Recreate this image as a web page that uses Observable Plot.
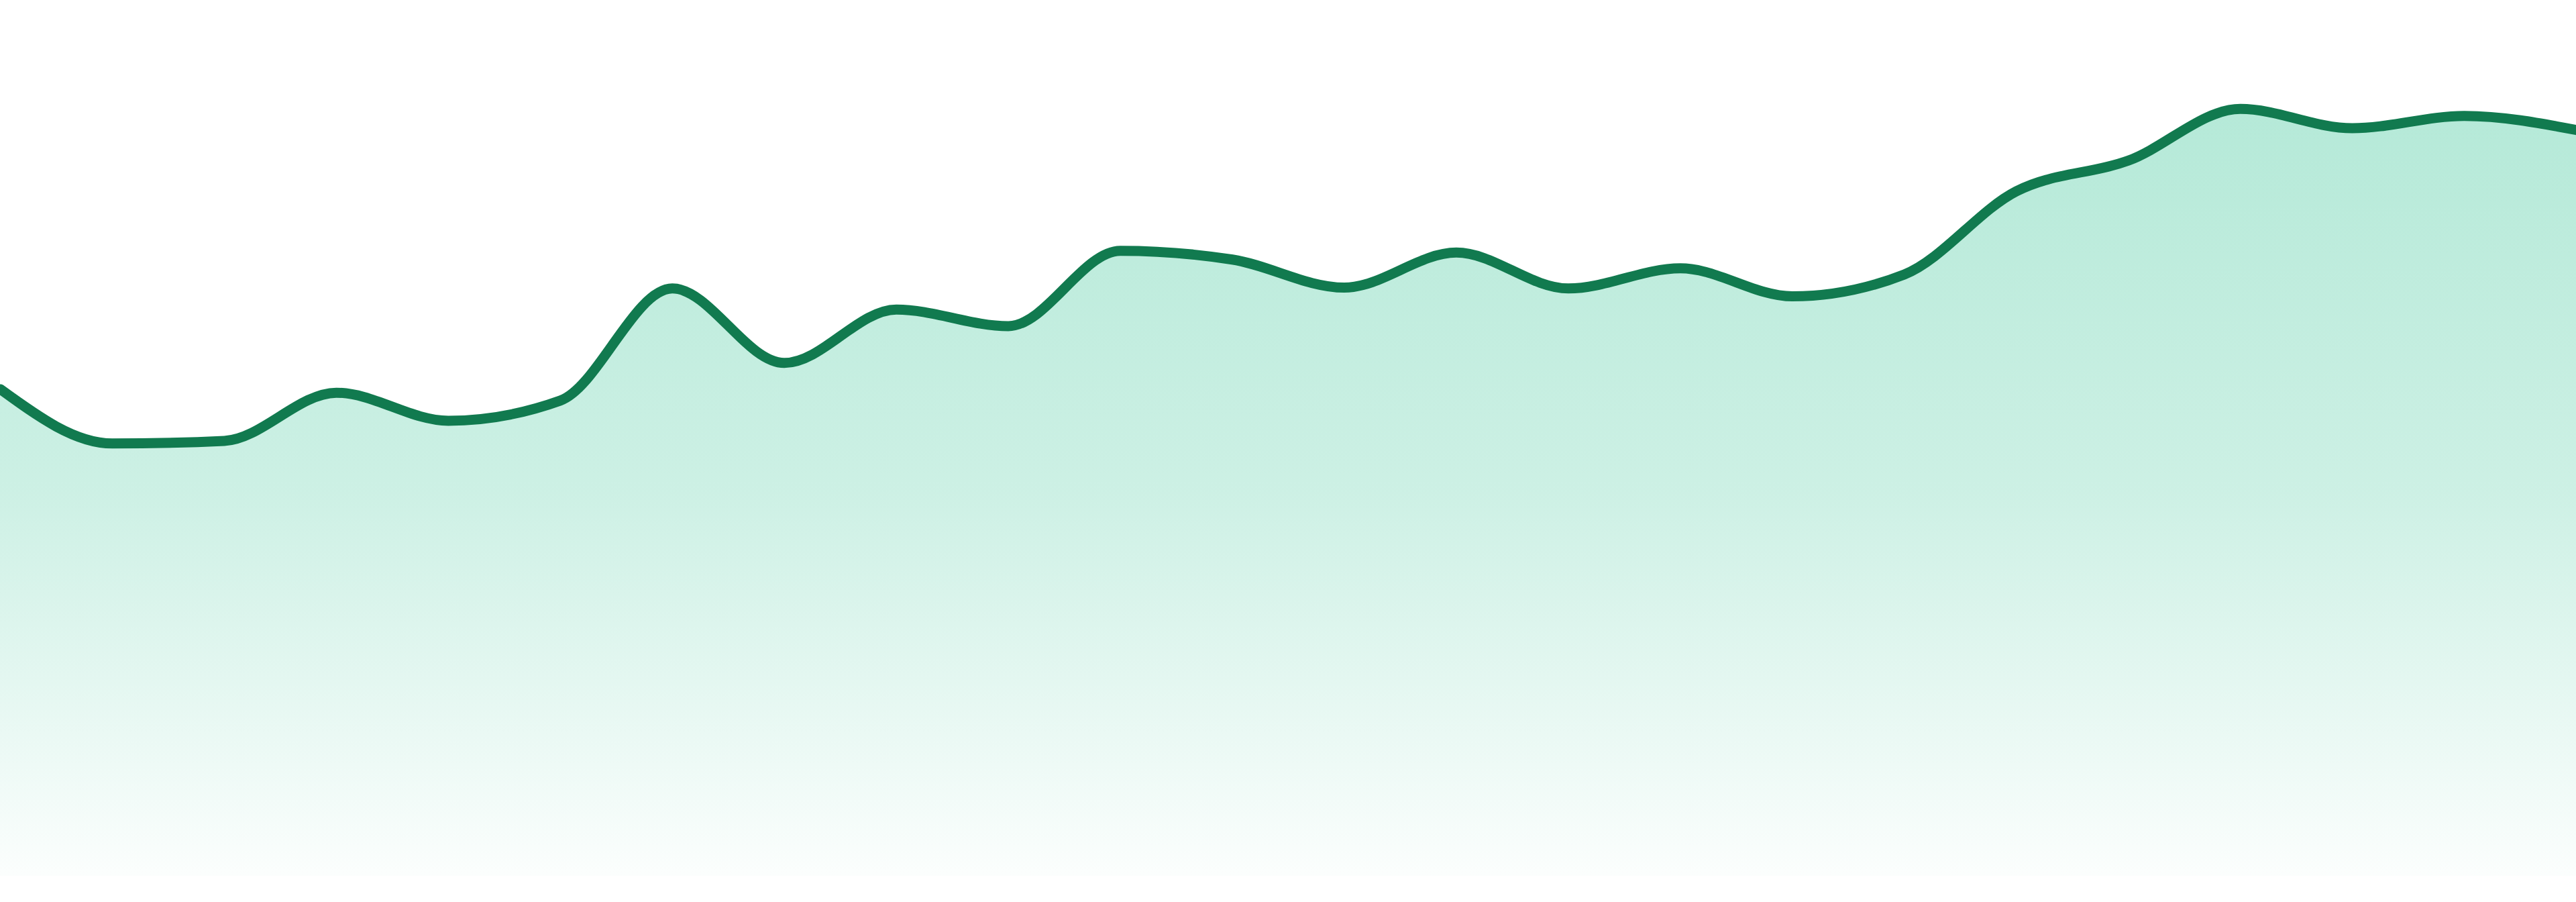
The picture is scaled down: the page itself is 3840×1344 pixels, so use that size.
<!DOCTYPE html>
<html>
<head>
<meta charset="utf-8">
<script src="https://cdn.jsdelivr.net/npm/d3@7"></script>
<script src="https://cdn.jsdelivr.net/npm/@observablehq/plot@0.6"></script>
<style>
  html, body { margin: 0; padding: 0; background: #ffffff; }
  #chart svg { display: block; }
</style>
</head>
<body>
<div id="chart"></div>
<script>
// Data (index of period, value on a 0–100 scale)
const periods = [0, 1, 2, 3, 4, 5, 6, 7, 8, 9, 10, 11, 12, 13, 14, 15, 16, 17, 18, 19, 20, 21, 22, 23];
const values  = [55.6, 49.4, 49.7, 55.2, 52.0, 54.3, 67.1, 58.6, 64.7, 62.8, 71.4, 70.4,
                 67.2, 71.2, 67.1, 69.4, 66.2, 68.7, 78.2, 81.7, 87.6, 85.4, 86.8, 85.2];

const data = periods.map((p, i) => ({ period: p, value: values[i] }));

const lineColor = "#117a4f";
const fillColor = "#10b981";

const gradientDefs = () => {
  const defs = d3.create("svg:defs");
  const g = defs.append("linearGradient")
    .attr("id", "areaGradient")
    .attr("x1", 0).attr("y1", 0).attr("x2", 0).attr("y2", 1);
  g.append("stop").attr("offset", "0%").attr("stop-color", fillColor).attr("stop-opacity", 0.31);
  g.append("stop").attr("offset", "50%").attr("stop-color", fillColor).attr("stop-opacity", 0.21);
  g.append("stop").attr("offset", "100%").attr("stop-color", fillColor).attr("stop-opacity", 0.015);
  return defs.node();
};

const plot = Plot.plot({
  width: 3840,
  height: 1344,
  marginTop: 0,
  marginRight: 0,
  marginBottom: 39,
  marginLeft: 0,
  x: { domain: [0, 23], axis: null },
  y: { domain: [0, 100], axis: null },
  marks: [
    gradientDefs,
    Plot.areaY(data, { x: "period", y: "value", curve: "monotone-x", fill: "url(#areaGradient)" }),
    Plot.lineY(data, { x: "period", y: "value", curve: "monotone-x", stroke: lineColor, strokeWidth: 15 })
  ]
});

document.getElementById("chart").appendChild(plot);
</script>
</body>
</html>
